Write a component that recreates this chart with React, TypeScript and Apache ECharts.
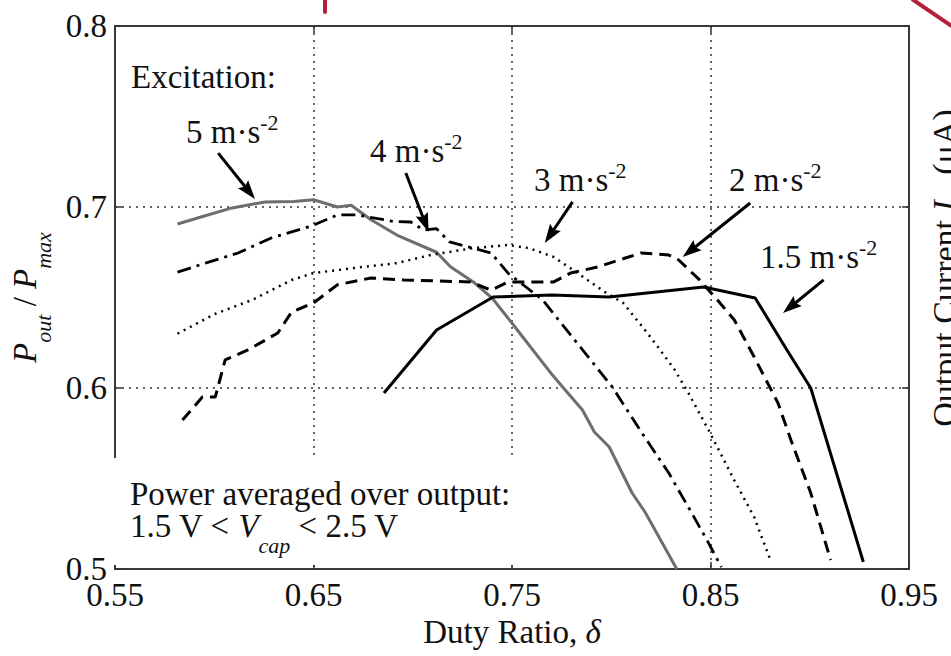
import React, { useEffect, useRef } from 'react';
import * as echarts from 'echarts';

// ---- data (duty ratio, Pout/Pmax) ----
const xTickLabels = ['0.55', '0.65', '0.75', '0.85', '0.95'];
const yTickLabels = ['0.5', '0.6', '0.7', '0.8'];
const excitations = ['5', '4', '3', '2', '1.5'];

const acc5 = [
  [0.5815, 0.6906], [0.595, 0.695], [0.609, 0.6995], [0.6255, 0.7028], [0.64, 0.703],
  [0.65, 0.704], [0.662, 0.700], [0.669, 0.701], [0.679, 0.693], [0.692, 0.6845],
  [0.712, 0.675], [0.719, 0.667], [0.7305, 0.6586], [0.74, 0.6497], [0.7515, 0.6337],
  [0.7605, 0.621], [0.7705, 0.607], [0.7755, 0.6006], [0.7855, 0.5878], [0.7915, 0.5757],
  [0.799, 0.5674], [0.8105, 0.542], [0.817, 0.5315], [0.833, 0.5],
];
const acc4 = [
  [0.5815, 0.664], [0.5955, 0.669], [0.612, 0.6746], [0.629, 0.683], [0.649, 0.6895],
  [0.662, 0.6956], [0.672, 0.6956], [0.6905, 0.692], [0.699, 0.6917], [0.7055, 0.6873],
  [0.712, 0.688], [0.7185, 0.6807], [0.7395, 0.6746], [0.748, 0.6635], [0.7655, 0.6486],
  [0.779, 0.630], [0.8005, 0.6006], [0.8155, 0.5751], [0.829, 0.553], [0.8405, 0.531],
  [0.849, 0.5144], [0.8555, 0.501],
];
const acc3 = [
  [0.5815, 0.630], [0.6005, 0.641], [0.619, 0.6486], [0.639, 0.6597], [0.65, 0.6635],
  [0.6705, 0.6663], [0.692, 0.669], [0.709, 0.6735], [0.7305, 0.6773], [0.748, 0.679],
  [0.7585, 0.6773], [0.771, 0.6724], [0.783, 0.6635], [0.7975, 0.6525], [0.806, 0.647],
  [0.817, 0.632], [0.8235, 0.6227], [0.832, 0.61], [0.839, 0.597], [0.849, 0.5768],
  [0.862, 0.549], [0.872, 0.5287], [0.8805, 0.504],
];
const acc2 = [
  [0.584, 0.5823], [0.594, 0.595], [0.6005, 0.595], [0.6055, 0.6155], [0.617, 0.621],
  [0.632, 0.6304], [0.639, 0.642], [0.65, 0.647], [0.662, 0.657], [0.679, 0.6608],
  [0.6955, 0.6597], [0.729, 0.6586], [0.7395, 0.654], [0.748, 0.6586], [0.771, 0.6586],
  [0.7795, 0.6635], [0.7935, 0.667], [0.815, 0.6746], [0.829, 0.6735], [0.834, 0.6707],
  [0.8445, 0.6597], [0.8535, 0.6486], [0.862, 0.6376], [0.872, 0.6171], [0.884, 0.5917],
  [0.8905, 0.5713], [0.9005, 0.542], [0.9105, 0.505],
];
const acc15 = [
  [0.6855, 0.5972], [0.712, 0.632], [0.7405, 0.6503], [0.77, 0.6514], [0.799, 0.6503],
  [0.8465, 0.6558], [0.8725, 0.6497], [0.8885, 0.621], [0.9005, 0.600], [0.927, 0.5039],
];

// annotation arrows (tail -> tip) in data coordinates
const arrowTails = [[0.602, 0.7298], [0.6965, 0.7188], [0.7805, 0.7028], [0.87, 0.7022], [0.907, 0.6597]];
const arrowTips = [[0.6205, 0.7044], [0.708, 0.6862], [0.7665, 0.6801], [0.836, 0.6724], [0.8865, 0.6414]];

const FONT = "'Liberation Serif', 'Times New Roman', serif";
const FS = 33;
const INK = '#111';

export default function App() {
  const ref = useRef<HTMLDivElement>(null);

  useEffect(() => {
    const chart = echarts.init(ref.current!, null, { renderer: 'svg' });

    const tickStyle = { show: true, inside: true, length: 7, lineStyle: { color: '#333', width: 1.5 } };
    const gridLine = { show: true, showMinLine: false, showMaxLine: false, lineStyle: { color: '#333', width: 1.5, type: [2, 5] } };
    const LH = 26;
    const supRich = {
      sup: { fontSize: 22, fontFamily: FONT, lineHeight: 20, verticalAlign: 'bottom', padding: [0, 0, 12, 0], color: INK },
      r: { fontSize: FS, fontFamily: FONT, color: INK, lineHeight: LH },
    };
    const subItal = { fontSize: 22, fontFamily: FONT, fontStyle: 'italic', lineHeight: 20, verticalAlign: 'top', padding: [21, 0, 0, 0], color: INK };
    const subAxis = { fontSize: 22, fontFamily: FONT, fontStyle: 'italic', lineHeight: 22, verticalAlign: 'top', padding: [24, 0, 0, 0], color: INK };

    const dataSets = [acc5, acc4, acc3, acc2, acc15];
    const styles = [
      { color: '#6e6e6e', width: 3, type: 'solid' },
      { color: '#000', width: 2.8, type: [14, 6, 3, 6] },
      { color: '#000', width: 2.5, type: [2, 5] },
      { color: '#000', width: 3, type: [12, 7] },
      { color: '#000', width: 3, type: 'solid' },
    ];

    chart.setOption({
      animation: false,
      backgroundColor: '#fff',
      textStyle: { fontFamily: FONT, color: INK },
      grid: { left: 109, right: 42, top: 26, bottom: 87, show: true, borderColor: '#3a3a3a', borderWidth: 2 },
      xAxis: [
        {
          type: 'value', min: 0.55, max: 0.95, interval: 0.1, position: 'bottom',
          axisLine: { show: false }, axisTick: tickStyle,
          axisLabel: { fontSize: FS, fontFamily: FONT, color: INK, margin: 13.5, lineHeight: 24, formatter: (v: number) => xTickLabels[Math.round((v - 0.55) / 0.1)] ?? v.toFixed(2) },
          splitLine: gridLine,
          name: '{r|Duty Ratio, }{i|δ}', nameLocation: 'middle', nameGap: 34,
          nameTextStyle: {
            fontSize: FS, fontFamily: FONT, color: INK,
            rich: { r: { fontSize: FS, fontFamily: FONT, color: INK }, i: { fontSize: FS, fontFamily: FONT, fontStyle: 'italic', color: INK } },
          },
        },
        {
          type: 'value', min: 0.55, max: 0.95, interval: 0.1, position: 'top',
          axisLine: { show: false }, axisTick: tickStyle, axisLabel: { show: false }, splitLine: { show: false },
        },
      ],
      yAxis: [
        {
          type: 'value', min: 0.5, max: 0.8, interval: 0.1, position: 'left',
          axisLine: { show: false }, axisTick: tickStyle,
          axisLabel: { fontSize: FS, fontFamily: FONT, color: INK, margin: 8, lineHeight: 24, formatter: (v: number) => yTickLabels[Math.round((v - 0.5) / 0.1)] ?? v.toFixed(1) },
          splitLine: gridLine,
          name: '{i|P}{sub|out}{r| / }{i|P}{sub|max}', nameLocation: 'middle', nameGap: 74, nameRotate: 90,
          nameTextStyle: {
            fontSize: FS, fontFamily: FONT, color: INK,
            rich: {
              r: { fontSize: FS, fontFamily: FONT, color: INK },
              i: { fontSize: FS, fontFamily: FONT, fontStyle: 'italic', color: INK },
              sub: subAxis,
            },
          },
        },
        {
          type: 'value', min: 0.5, max: 0.8, interval: 0.1, position: 'right',
          axisLine: { show: false }, axisTick: tickStyle, axisLabel: { show: false }, splitLine: { show: false },
        },
      ],
      series: dataSets.map((d, i) => ({
        name: excitations[i] + ' m·s-2',
        type: 'line',
        data: d,
        symbol: 'none',
        xAxisIndex: 0,
        yAxisIndex: 0,
        lineStyle: styles[i],
        itemStyle: { color: styles[i].color },
        z: 3,
      })),
    });

    const toPx = (p: number[]) => chart.convertToPixel({ gridIndex: 0 }, p) as number[];

    const elements: any[] = [];
    // white box under the bottom-left note (hides gridlines)
    elements.push({ type: 'rect', z: 1, shape: { x: 113, y: 458, width: 490, height: 107 }, style: { fill: '#fff' } });

    // arrows
    arrowTails.forEach((t, i) => {
      const a = toPx(t);
      const b = toPx(arrowTips[i]);
      const dx = b[0] - a[0];
      const dy = b[1] - a[1];
      const len = Math.hypot(dx, dy);
      const ux = dx / len, uy = dy / len;
      const hl = 19, hw = 6.5;
      const bx = b[0] - ux * hl, by = b[1] - uy * hl;
      elements.push({ type: 'line', z: 10, shape: { x1: a[0], y1: a[1], x2: bx + ux * 3, y2: by + uy * 3 }, style: { stroke: '#000', lineWidth: 3 } });
      elements.push({
        type: 'polygon', z: 10,
        shape: { points: [[b[0], b[1]], [bx - uy * hw, by + ux * hw], [bx + ux * 3, by + uy * 3], [bx + uy * hw, by - ux * hw]] },
        style: { fill: '#000' },
      });
    });

    const txt = (x: number, y: number, text: string, rich: any) => ({
      type: 'text', z: 10, x, y,
      style: { text, fontSize: FS, fontFamily: FONT, fill: INK, align: 'left', verticalAlign: 'middle', rich },
    });

    elements.push(txt(131, 77, '{r|Excitation:}', supRich));
    const labelPos = [[186, 132], [370, 151], [534, 180], [729, 180], [760, 257]];
    excitations.forEach((e, i) => {
      elements.push(txt(labelPos[i][0], labelPos[i][1], `{r|${e} m·s}{sup|-2}`, supRich));
    });
    elements.push(txt(130, 494, '{r|Power averaged over output:}', supRich));
    elements.push(txt(130, 526, '{r|1.5 V < }{i|V}{sub|cap}{r| < 2.5 V}', {
      r: { fontSize: FS, fontFamily: FONT, color: INK, lineHeight: LH },
      i: { fontSize: FS, fontFamily: FONT, fontStyle: 'italic', color: INK, lineHeight: LH },
      sub: subItal,
    }));

    // partially visible neighbouring axis title at the right edge
    elements.push({
      type: 'text', z: 10, x: 944, y: 268, rotation: Math.PI / 2,
      style: {
        text: '{r|Output Current }{i|I}{r|   (μA)}', fontSize: 34, fontFamily: FONT, fill: INK, align: 'center', verticalAlign: 'middle',
        rich: {
          r: { fontSize: 34, fontFamily: FONT, color: INK },
          i: { fontSize: 34, fontFamily: FONT, fontStyle: 'italic', color: INK },
        },
      },
    });

    // red marks at the top edge of the crop
    elements.push({ type: 'line', z: 10, shape: { x1: 325, y1: -2, x2: 325, y2: 12 }, style: { stroke: '#b3203a', lineWidth: 4, lineCap: 'round' } });
    elements.push({ type: 'line', z: 10, shape: { x1: 912, y1: -1, x2: 953, y2: 27 }, style: { stroke: '#b3203a', lineWidth: 4 } });

    chart.setOption({ graphic: { elements } });

    return () => chart.dispose();
  }, []);

  return (
    <div
      ref={ref}
      style={{ position: 'fixed', left: 0, top: 0, width: 951, height: 656, background: '#fff' }}
    />
  );
}
